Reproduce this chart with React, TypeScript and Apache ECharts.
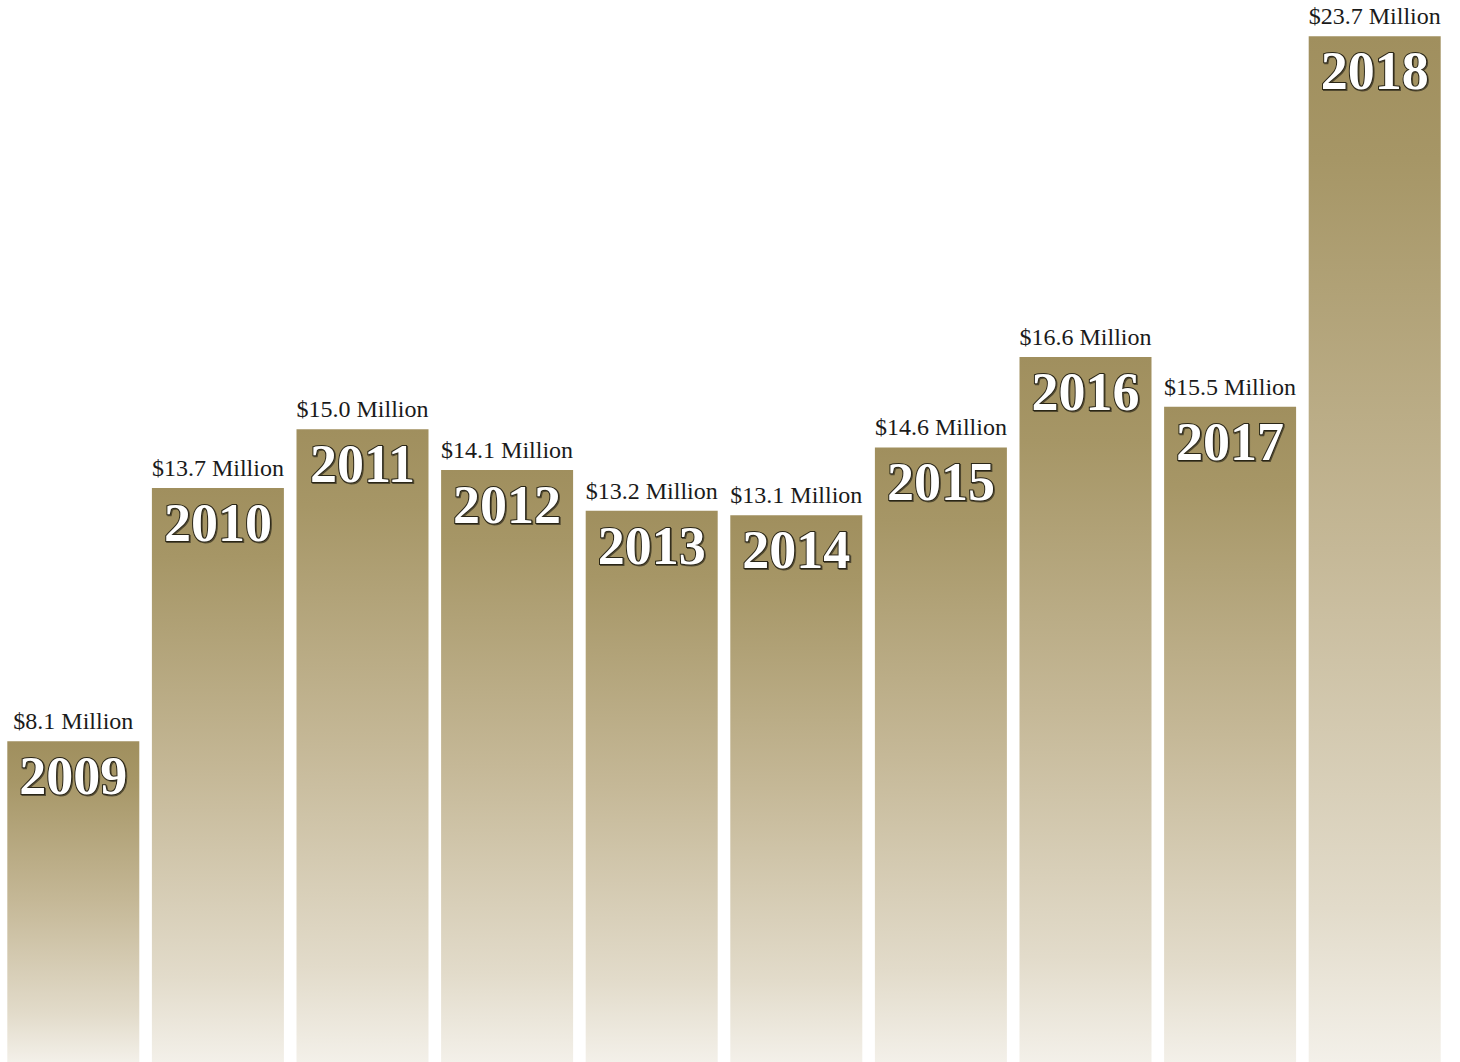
import React, { useEffect, useRef } from "react";
import * as echarts from "echarts";

const years = ["2009", "2010", "2011", "2012", "2013", "2014", "2015", "2016", "2017", "2018"];
const amounts = [8.1, 13.7, 15.0, 14.1, 13.2, 13.1, 14.6, 16.6, 15.5, 23.7];

export default function App() {
  const ref = useRef<HTMLDivElement>(null);
  useEffect(() => {
    document.body.style.margin = "0";
    const chart = echarts.init(ref.current!, null, { renderer: "svg" });
    const gradient = new echarts.graphic.LinearGradient(0, 0, 0, 1, [
      { offset: 0, color: "#A08F5E" },
      { offset: 0.12, color: "#A69666" },
      { offset: 0.5, color: "#C5B897" },
      { offset: 0.85, color: "#E2DBCA" },
      { offset: 1, color: "#F3F0E9" },
    ]);
    chart.setOption({
      animation: false,
      backgroundColor: "#ffffff",
      grid: { left: 1, right: 13, top: 0, bottom: 0, containLabel: false },
      xAxis: {
        type: "category",
        data: years,
        show: false,
      },
      yAxis: { type: "value", min: 1, max: 24.5, show: false },
      series: [
        {
          type: "bar",
          barWidth: 132,
          data: amounts,
          itemStyle: { color: gradient },
          label: {
            show: true,
            position: "top",
            distance: 8,
            formatter: (p: any) => `$${amounts[p.dataIndex].toFixed(1)} Million`,
            fontFamily: "Liberation Serif",
            fontSize: 24,
            color: "#1a1a1a",
          },
        },
        {
          type: "bar",
          barWidth: 132,
          barGap: "-100%",
          silent: true,
          data: amounts,
          itemStyle: { color: "transparent" },
          label: {
            show: true,
            position: "insideTop",
            distance: 8,
            formatter: (p: any) => years[p.dataIndex],
            fontFamily: "Liberation Serif",
            fontWeight: "bold",
            fontSize: 54,
            color: "#ffffff",
            textBorderColor: "#2a2618",
            textBorderWidth: 2,
            textShadowColor: "rgba(0,0,0,0.5)",
            textShadowOffsetX: 1,
            textShadowOffsetY: 1,
            textShadowBlur: 1,
          },
        },
      ],
    });
    return () => chart.dispose();
  }, []);
  return (
    <div
      ref={ref}
      style={{ position: "absolute", left: 0, top: 0, width: 1460, height: 1062 }}
    />
  );
}
